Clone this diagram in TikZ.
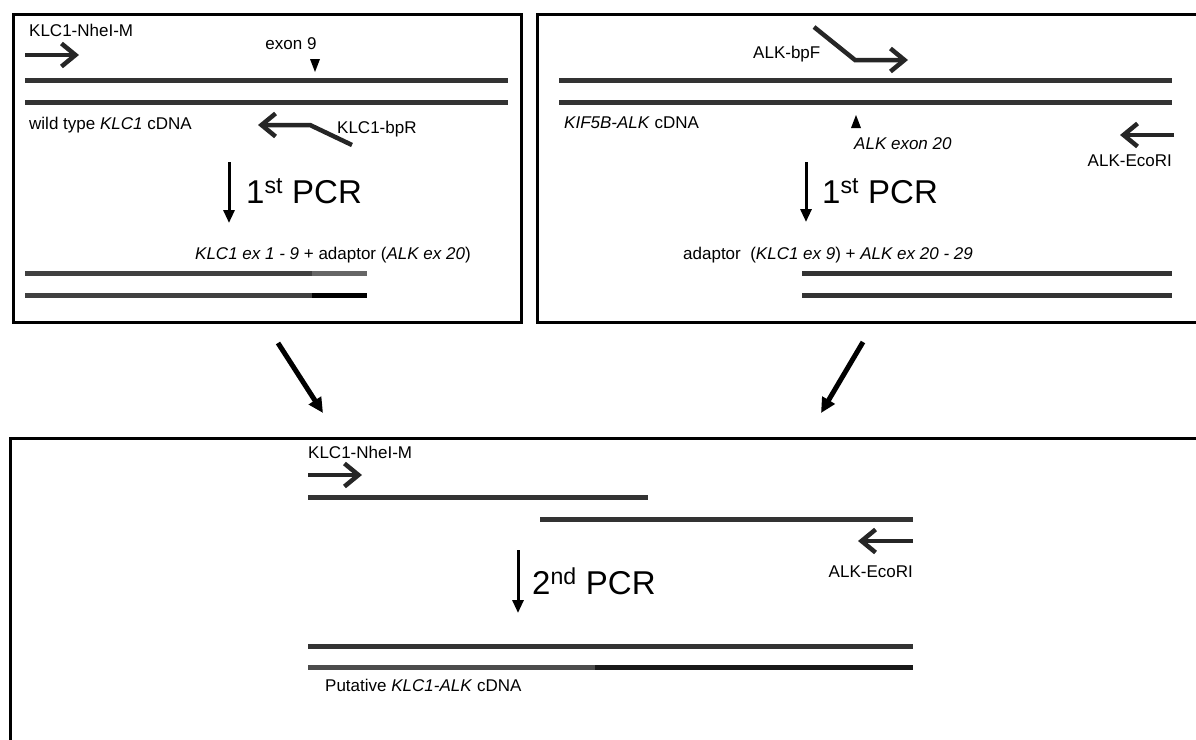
\documentclass[tikz,border=0pt]{standalone}
\usepackage{fontspec}
\setmainfont{Liberation Sans}
\usetikzlibrary{arrows.meta}

\begin{document}
\begin{tikzpicture}[x=1pt,y=-1pt,
  frame/.style={line width=3pt},
  strand/.style={line width=5pt, black!80},
  primer/.style={line width=4.5pt, black!85, -{Straight Barb[length=14pt,width=23pt]}},
  pcr/.style={line width=3pt, -{Triangle[length=13pt,width=11pt]}},
  flow/.style={line width=5pt, -{Triangle[length=15pt,width=14pt]}},
  lbl/.style={inner sep=0pt, font=\fontsize{17}{20}\selectfont},
  big/.style={inner sep=0pt, font=\fontsize{33}{38}\selectfont}
]
\useasboundingbox (0,0) rectangle (1196,739);
\clip (0,0) rectangle (1196,739);

% frames
\draw[frame] (13,14) rectangle (521,322);
\draw[frame] (1200,14) -- (537,14) -- (537,322) -- (1200,322);
\draw[frame] (1200,438) -- (10,438) -- (10,745);

% --- wild type KLC1 ---
\draw[strand] (25,80) -- (508,80);
\draw[strand] (25,102) -- (508,102);
\fill (310,59) -- (320,59) -- (315,72) -- cycle;

\coordinate (nheA) at (25,55);
\coordinate (nheB) at (79,55);
\draw[primer] (nheA) -- (nheB);
\coordinate (bprA) at (352,145);
\coordinate (bprB) at (310,125);
\coordinate (bprC) at (258,125);
\draw[primer] (bprA) -- (bprB) -- (bprC);

\node[lbl, anchor=base west] (nhe1) at (29,36) {KLC1-NheI-M};
\node[lbl, anchor=base] (ex9) at (291,49) {exon 9};
\node[lbl, anchor=base west] (wt) at (29,129) {wild type \textit{KLC1} cDNA};
\node[lbl, anchor=base west] (bpr) at (337,133) {KLC1-bpR};

\coordinate (p1a) at (229,162);
\coordinate (p1b) at (229,223);
\draw[pcr] (p1a) -- (p1b);
\node[big, anchor=base west] (pcr1) at (246,203) {1\textsuperscript{st} PCR};

\node[lbl, anchor=base west] (prod1) at (195,259)
  {\textit{KLC1 ex 1 - 9} + adaptor (\textit{ALK ex 20})};
\draw[strand, black!75] (25,273) -- (312,273);
\draw[strand, black!60] (312,273) -- (367,273);
\draw[strand, black!75] (25,295) -- (312,295);
\draw[strand, black] (312,295) -- (367,295);

% --- KIF5B-ALK ---
\draw[strand] (559,80) -- (1172,80);
\draw[strand] (559,102) -- (1172,102);
\fill (851,128) -- (861,128) -- (856,115) -- cycle;

\coordinate (bpfA) at (814,27);
\coordinate (bpfB) at (855,60);
\coordinate (bpfC) at (908,60);
\draw[primer] (bpfA) -- (bpfB) -- (bpfC);
\coordinate (ecoA) at (1174,135);
\coordinate (ecoB) at (1120,135);
\draw[primer] (ecoA) -- (ecoB);

\node[lbl, anchor=base west] (bpf) at (753,58) {ALK-bpF};
\node[lbl, anchor=base west] (kif) at (564,128) {\textit{KIF5B-ALK} cDNA};
\node[lbl, anchor=base west] (ex20) at (854,149) {\textit{ALK exon 20}};
\node[lbl, anchor=base east] (eco1) at (1172,166) {ALK-EcoRI};

\coordinate (p2a) at (806,162);
\coordinate (p2b) at (806,222);
\draw[pcr] (p2a) -- (p2b);
\node[big, anchor=base west] (pcr2) at (822,203) {1\textsuperscript{st} PCR};

\node[lbl, anchor=base west] (prod2) at (683,259)
  {adaptor~ (\textit{KLC1 ex 9}) + \textit{ALK ex 20 - 29}};
\draw[strand] (802,273) -- (1172,273);
\draw[strand] (802,295) -- (1172,295);

% --- between the panels ---
\coordinate (f1a) at (278,343);
\coordinate (f1b) at (323,413);
\coordinate (f2a) at (863,342);
\coordinate (f2b) at (821,413);
\draw[flow] (f1a) -- (f1b);
\draw[flow] (f2a) -- (f2b);

% --- KLC1-ALK ---
\node[lbl, anchor=base west] (nhe3) at (308,458) {KLC1-NheI-M};
\coordinate (nhe3A) at (308,475);
\coordinate (nhe3B) at (362,475);
\draw[primer] (nhe3A) -- (nhe3B);
\draw[strand] (308,497) -- (648,497);
\draw[strand] (540,519) -- (913,519);
\coordinate (eco3A) at (913,541);
\coordinate (eco3B) at (858,541);
\draw[primer] (eco3A) -- (eco3B);
\node[lbl, anchor=base east] (eco3) at (913,577) {ALK-EcoRI};

\coordinate (p3a) at (518,550);
\coordinate (p3b) at (518,613);
\draw[pcr] (p3a) -- (p3b);
\node[big, anchor=base west] (pcr3) at (532,594) {2\textsuperscript{nd} PCR};

\draw[strand] (308,646) -- (913,646);
\draw[strand, black!70] (308,667) -- (595,667);
\draw[strand, black!90] (595,667) -- (913,667);
\node[lbl, anchor=base west] (fus) at (325,691) {Putative \textit{KLC1-ALK} cDNA};

\end{tikzpicture}
\end{document}
